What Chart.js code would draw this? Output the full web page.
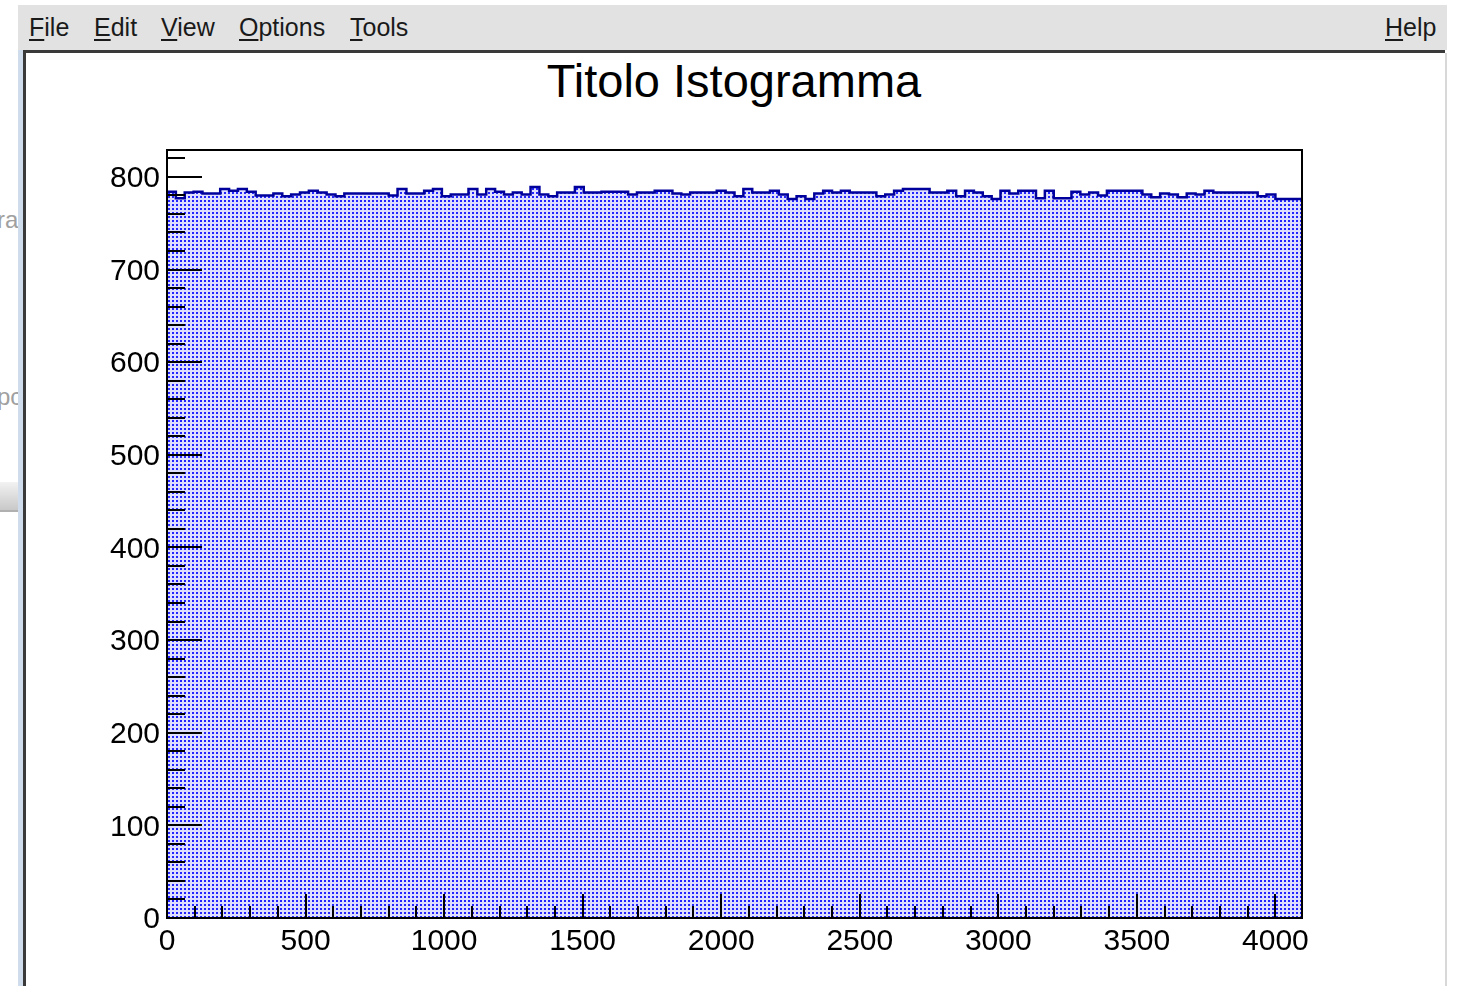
<!DOCTYPE html>
<html>
<head>
<meta charset="utf-8">
<title>Titolo Istogramma</title>
<script src="https://cdn.jsdelivr.net/npm/chart.js"></script>
<style>
    body { margin: 0; width: 1459px; height: 986px; background: #fff; overflow: hidden; position: relative; font-family: "Liberation Sans", Arial, sans-serif; }
    #menubar { position: absolute; left: 18px; top: 5px; width: 1429px; height: 45px; background: #e2e2e2; }
    .menu { position: absolute; top: 8px; font-size: 25px; line-height: 28px; color: #1a1a1a; }
    .menu u { text-decoration-thickness: 2px; text-underline-offset: 3px; }
    #menuline { position: absolute; left: 23px; top: 50px; width: 1422px; height: 3px; background: #3a3a3a; }
    #leftblue { position: absolute; left: 18px; top: 50px; width: 5px; height: 936px; background: #cfdcec; }
    #leftline { position: absolute; left: 23px; top: 50px; width: 3px; height: 936px; background: #3a3a3a; }
    #rightline { position: absolute; left: 1445px; top: 53px; width: 2px; height: 933px; background: #d8d8d8; }
    .ghost { position: absolute; left: -3px; width: 30px; font-size: 24px; color: #a0a0a0; }
    #scroll { position: absolute; left: 0; top: 482px; width: 18px; height: 28px; background: linear-gradient(#f2f2f2, #c8c8c8); border-bottom: 2px solid #b0b0b0; }
    #title { position: absolute; left: 434px; top: 58px; width: 600px; text-align: center; font-size: 47px; line-height: 46px; color: #000; }
    #chart { position: absolute; left: 0; top: 0; }
</style>
</head>
<body>
<div id="menubar">
    <span class="menu" style="left:11px"><u>F</u>ile</span>
    <span class="menu" style="left:76px"><u>E</u>dit</span>
    <span class="menu" style="left:143px"><u>V</u>iew</span>
    <span class="menu" style="left:221px"><u>O</u>ptions</span>
    <span class="menu" style="left:332px"><u>T</u>ools</span>
    <span class="menu" style="left:1367px"><u>H</u>elp</span>
</div>
<div id="menuline"></div>
<div id="leftblue"></div>
<div id="leftline"></div>
<div id="rightline"></div>
<div style="position:absolute;left:0;top:0;width:18px;height:986px;overflow:hidden">
    <div class="ghost" style="top:206px">ra</div>
    <div class="ghost" style="top:383px">pc</div>
    <div id="scroll"></div>
</div>
<div id="title">Titolo Istogramma</div>
<canvas id="chart" width="1459" height="986"></canvas>
<script>
// histogram: 128 bins of width 32 from 0 to 4096
const binWidth = 32;
const xMin = 0;
const xMax = 4096;
const yMax = 829;
const counts = [
    784, 784, 777, 783, 784, 782, 782, 787, 785, 787, 784, 780, 780, 782, 779, 781,
    783, 785, 783, 781, 779, 782, 782, 782, 782, 782, 780, 787, 782, 782, 785, 787,
    779, 781, 781, 787, 781, 787, 784, 781, 783, 781, 789, 781, 779, 783, 783, 789,
    783, 783, 784, 784, 784, 781, 783, 783, 785, 785, 782, 781, 783, 783, 783, 785,
    783, 779, 787, 783, 783, 785, 781, 776, 779, 776, 782, 785, 783, 785, 783, 783,
    783, 779, 781, 785, 787, 787, 787, 783, 783, 785, 779, 785, 783, 779, 776, 785,
    782, 785, 785, 777, 785, 777, 777, 784, 781, 783, 780, 785, 785, 785, 785, 781,
    778, 782, 781, 778, 782, 781, 785, 783, 783, 783, 783, 783, 779, 781, 776
];
const xMajor = 500;
const xMinor = 100;
const yMajor = 100;
const yMinor = 20;

function tickValues(max, step) {
    const list = [];
    for (let v = 0; v <= max; v += step) list.push(v);
    return list;
}
const xTicks = tickValues(xMax, xMinor);
const yTicks = tickValues(yMax, yMinor);

function makePattern() {
    const tile = document.createElement('canvas');
    tile.width = 4;
    tile.height = 4;
    const c = tile.getContext('2d');
    c.fillStyle = '#dedeff';
    c.fillRect(0, 0, 4, 4);
    c.fillStyle = '#2424ff';
    c.fillRect(0, 0, 2, 2);
    return tile.getContext('2d').createPattern(tile, 'repeat');
}

function buildPoints() {
    const points = counts.map((v, i) => ({ x: xMin + i * binWidth, y: v }));
    points.push({ x: xMax, y: counts[counts.length - 1] });
    return points;
}

// ROOT style frame and inward ticks
const frameTicks = {
    id: 'frameTicks',
    afterDatasetsDraw(chart) {
        const ctx = chart.ctx;
        const area = chart.chartArea;
        const xs = chart.scales.x;
        const ys = chart.scales.y;
        ctx.save();
        ctx.strokeStyle = '#000';
        ctx.lineWidth = 2;
        ctx.beginPath();
        xs.ticks.forEach(t => {
            const px = Math.round(xs.getPixelForValue(t.value));
            const len = t.value % xMajor === 0 ? 24 : 12;
            ctx.moveTo(px, area.bottom);
            ctx.lineTo(px, area.bottom - len);
        });
        ys.ticks.forEach(t => {
            const py = Math.round(ys.getPixelForValue(t.value));
            const len = t.value % yMajor === 0 ? 35 : 18;
            ctx.moveTo(area.left, py);
            ctx.lineTo(area.left + len, py);
        });
        ctx.stroke();
        ctx.strokeRect(area.left, area.top, area.right - area.left, area.bottom - area.top);
        ctx.restore();
    }
};

const tickFont = { family: '"Liberation Sans", Arial, sans-serif', size: 30 };

new Chart(document.getElementById('chart').getContext('2d'), {
    type: 'line',
    data: {
        datasets: [{
            data: buildPoints(),
            stepped: 'after',
            borderColor: '#00009c',
            borderWidth: 2.5,
            backgroundColor: makePattern(),
            fill: 'origin',
            pointRadius: 0,
        }],
    },
    options: {
        responsive: false,
        animation: false,
        devicePixelRatio: 1,
        layout: { padding: { left: 67, right: 157, top: 150, bottom: 8 } },
        plugins: { legend: { display: false }, tooltip: { enabled: false }, title: { display: false } },
        scales: {
            x: {
                type: 'linear',
                min: xMin,
                max: xMax,
                grid: { display: false, drawTicks: false },
                border: { display: false },
                afterFit: scale => { scale.height = 60; },
                afterBuildTicks: scale => { scale.ticks = xTicks.map(v => ({ value: v })); },
                ticks: {
                    autoSkip: false,
                    maxRotation: 0,
                    padding: 6,
                    color: '#000',
                    font: tickFont,
                    callback: v => (v % xMajor === 0 ? v : ''),
                },
            },
            y: {
                min: 0,
                max: yMax,
                grid: { display: false, drawTicks: false },
                border: { display: false },
                afterFit: scale => { scale.width = 100; },
                afterBuildTicks: scale => { scale.ticks = yTicks.map(v => ({ value: v })); },
                ticks: {
                    autoSkip: false,
                    padding: 7,
                    labelOffset: 2,
                    color: '#000',
                    font: tickFont,
                    callback: v => (v % yMajor === 0 ? v : ''),
                },
            },
        },
    },
    plugins: [frameTicks],
});
</script>
</body>
</html>
